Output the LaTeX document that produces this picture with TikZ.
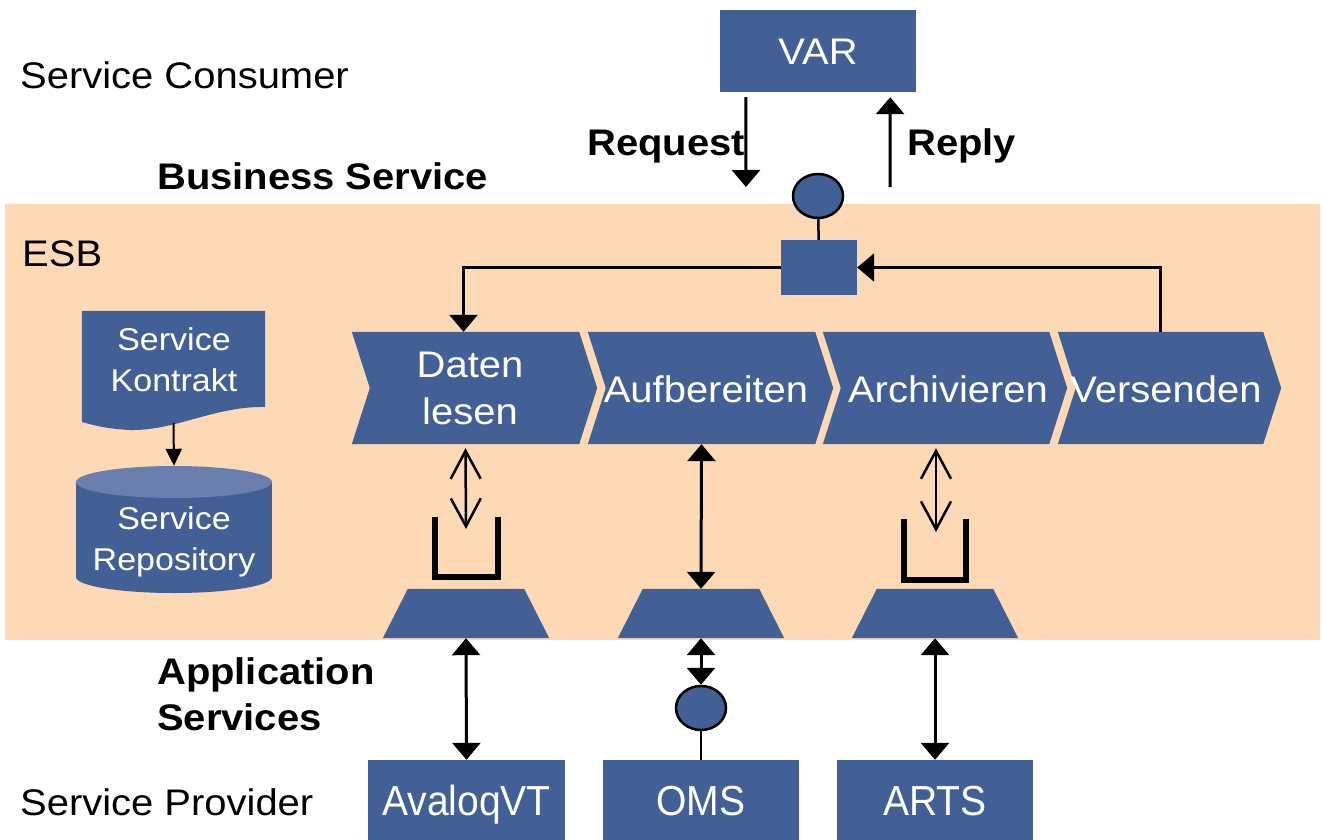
\documentclass[tikz,border=0pt]{standalone}
\usepackage{fontspec}
\setmainfont{Liberation Sans}[FakeStretch=1.08]
\newfontfamily\narrowsans{Liberation Sans}[FakeStretch=0.93]
\usetikzlibrary{arrows.meta,shapes.geometric}
\definecolor{esbblue}{RGB}{67,96,150}
\definecolor{esbpeach}{RGB}{253,217,181}
\definecolor{toplight}{RGB}{106,127,173}
\begin{document}
\begin{tikzpicture}[x=1pt,y=-1pt,
  big/.style={font=\fontsize{37}{46}\selectfont, inner sep=0pt},
  bigb/.style={font=\fontsize{37}{46}\selectfont\bfseries, inner sep=0pt},
  wtxt/.style={text=white, font=\fontsize{37}{47}\selectfont, inner sep=0pt, align=center},
  stxt/.style={text=white, font=\fontsize{31.5}{41}\selectfont, inner sep=0pt, align=center},
  bluebox/.style={fill=esbblue, draw=none, inner sep=0pt, text=white, font=\fontsize{37}{46}\selectfont, text height=26.5pt, text depth=0pt},
  appbox/.style={bluebox, font=\narrowsans\fontsize{42}{46}\selectfont, text height=30pt},
  area/.style={draw=none, inner sep=0pt},
  knob/.style={ellipse, draw=black, fill=esbblue, line width=2.5pt, minimum width=50, minimum height=44, inner sep=0pt},
  conn/.style={line width=2.5pt},
  tri/.tip={Triangle[width=28pt,length=17pt]},
  sarr/.style={line width=3pt, -tri},
  dsarr/.style={line width=3pt, tri-tri},
  barb/.style={line width=2.5pt, {Straight Barb[width=30pt,length=28pt]}-{Straight Barb[width=30pt,length=28pt]}},
  bracket/.style={line width=6pt, line join=miter},
]
\useasboundingbox (0,0) rectangle (1322,840);
\fill[white] (0,0) rectangle (1322,840);

% ESB area
\node[area, fill=esbpeach, minimum width=1315, minimum height=436] (esb) at (662.5,422) {};

% labels
\node[big, anchor=base west] (cons) at (20,89) {Service Consumer};
\node[bigb, anchor=base west] (bs) at (157,189) {Business Service};
\node[big, anchor=base west] (esbl) at (22,266) {ESB};
\node[bigb, anchor=west, align=left] (app) at (157,694.5) {Application\\Services};
\node[big, anchor=base west] (prov) at (20,815) {Service Provider};

% VAR
\node[bluebox, minimum width=196, minimum height=82] (var) at (818,51) {VAR};
\coordinate (reqend) at (746,187);
\coordinate (repstart) at (890,187);
\draw[sarr] ([shift={(26,5)}]var.south west) -- (reqend);
\draw[sarr] (repstart) -- ([shift={(-26,5)}]var.south east);
\node[bigb, anchor=base east] (req) at (745,155) {Request};
\node[bigb, anchor=base west] (rep) at (907,155) {Reply};

% business service interface
\node[knob] (c1) at (818,196) {};
\node[bluebox, minimum width=76, minimum height=55] (sq) at (819,267.5) {};
\draw[conn] (c1) -- (sq);

% chevrons
\node[area, minimum width=227, minimum height=112] (daten) at (465.5,388) {};
\node[area, minimum width=227, minimum height=112] (aufb) at (701.5,388) {};
\node[area, minimum width=226, minimum height=112] (arch) at (936,388) {};
\node[area, minimum width=205, minimum height=112] (vers) at (1160.5,388) {};
\foreach \n in {daten,aufb,arch,vers}{
  \fill[esbblue] (\n.north west) -- (\n.north east) -- ([xshift=18pt]\n.east)
    -- (\n.south east) -- (\n.south west) -- ([xshift=18pt]\n.west) -- cycle;
}
\node[wtxt] (datent) at (470,388) {Daten\\lesen};
\node[wtxt] (aufbt) at (706,389) {Aufbereiten};
\node[wtxt] (archt) at (948,389) {Archivieren};
\node[wtxt] (verst) at (1166,389) {Versenden};

\draw[conn, -tri] (sq.west) -| ([xshift=-2pt]daten.north);
\draw[conn, -tri] (vers.north) |- (sq.east);

% adapters (trapezoids)
\node[area, minimum width=166, minimum height=49] (t1) at (466,613.5) {};
\node[area, minimum width=166, minimum height=49] (t2) at (701,613.5) {};
\node[area, minimum width=166, minimum height=49] (t3) at (935,613.5) {};
\foreach \n in {t1,t2,t3}{
  \fill[esbblue] (\n.south west) -- (\n.south east) -- ([xshift=-25pt]\n.north east)
    -- ([xshift=25pt]\n.north west) -- cycle;
}

% queues
\coordinate (b1) at (466,529);
\coordinate (b3) at (936,532);
\draw[barb] ([yshift=-4pt]daten.south) -- (b1);
\draw[barb] ([yshift=-4pt]arch.south) -- (b3);
\draw[bracket] (434.5,517) -- (434.5,577) -- (497.5,577) -- (497.5,517);
\draw[bracket] (904,519) -- (904,580) -- (966,580) -- (966,519);

% middle direct
\draw[dsarr] (aufb.south) -- (t2.north);

% application services
\node[appbox, minimum width=197, minimum height=80] (aval) at (466.5,800) {AvaloqVT};
\node[appbox, minimum width=196, minimum height=80] (oms) at (701,800) {OMS};
\node[appbox, minimum width=196, minimum height=80] (arts) at (935,800) {ARTS};
\node[knob] (c2) at (701,708) {};
\draw[dsarr] (t1.south) -- (aval.north);
\draw[dsarr] (t3.south) -- (arts.north);
\draw[dsarr] (t2.south) -- (c2.north);
\draw[conn] (c2) -- (oms);

% service contract (document)
\node[area, minimum width=183, minimum height=111] (doc) at (173.5,366.5) {};
\fill[esbblue] (doc.north west) -- (doc.north east) -- (265,407)
  .. controls (215,406) and (175,431) .. (130,430)
  .. controls (108,429) and (92,425) .. (82,422) -- cycle;
\node[stxt] (doct) at (174,360) {Service\\Kontrakt};

% repository (cylinder)
\node[area, minimum width=196, minimum height=127] (repo) at (174,529.5) {};
\fill[esbblue] (76,482) rectangle (272,577);
\fill[esbblue] (174,577) ellipse [x radius=98, y radius=16];
\fill[toplight] (174,482) ellipse [x radius=98, y radius=16];
\node[stxt] (repot) at (174,542) {Service\\Repository};

\draw[line width=2pt, -{Triangle[width=16pt,length=17pt]}] ([yshift=-1pt]doc.south) -- (repo.north);
\end{tikzpicture}
\end{document}
